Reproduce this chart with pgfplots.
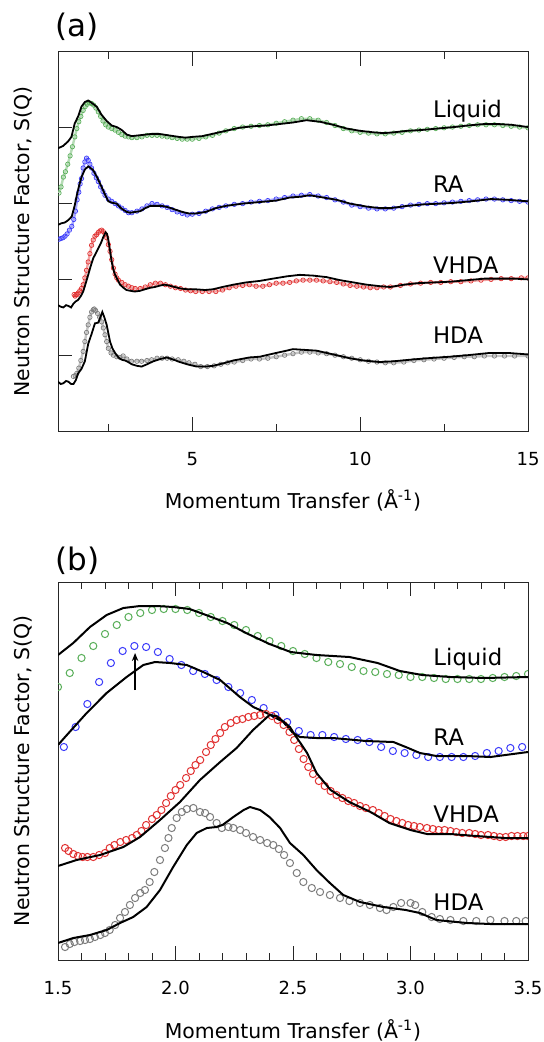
\documentclass[border=0pt]{standalone}
\usepackage{fontspec}
\setmainfont{DejaVu Sans}
\usepackage{pgfplots}
\usepackage{pgfplotstable}
\pgfplotsset{compat=1.18}
\usetikzlibrary{arrows.meta}

\definecolor{cgreen}{RGB}{90,175,90}
\definecolor{cblue}{RGB}{60,60,250}
\definecolor{cred}{RGB}{225,50,50}
\definecolor{cgrey}{RGB}{125,125,125}

% ---------- panel (a): whole Q range, curves offset by 1 ----------
\pgfplotstableread{
q s
1.00 3.73
1.15 3.76
1.30 3.82
1.40 3.88
1.50 4.06
1.60 4.15
1.70 4.28
1.80 4.34
1.90 4.36
2.00 4.33
2.15 4.28
2.30 4.17
2.45 4.09
2.60 4.03
2.75 4.01
2.90 3.97
3.05 3.91
3.20 3.89
3.40 3.90
3.60 3.91
3.80 3.92
4.00 3.92
4.30 3.90
4.60 3.88
4.80 3.87
5.00 3.88
5.30 3.89
5.70 3.93
6.00 3.96
6.40 4.00
6.80 4.02
7.20 4.03
7.60 4.05
8.00 4.07
8.40 4.10
8.80 4.08
9.20 4.04
9.60 3.99
10.00 3.96
10.40 3.94
10.70 3.93
11.00 3.94
11.40 3.96
11.80 3.97
12.30 3.99
12.80 4.01
13.20 4.03
13.70 4.05
14.10 4.05
14.50 4.04
15.00 4.01
}\liqfitA
\pgfplotstableread{
q s
1.03 3.14
1.09 3.22
1.16 3.35
1.22 3.42
1.29 3.52
1.36 3.63
1.43 3.75
1.50 3.88
1.56 3.99
1.62 4.08
1.68 4.15
1.75 4.23
1.81 4.28
1.87 4.31
1.93 4.33
2.00 4.32
2.06 4.30
2.13 4.26
2.20 4.21
2.27 4.15
2.34 4.09
2.42 4.04
2.50 4.01
2.60 3.99
2.70 3.97
2.80 3.94
2.90 3.91
3.00 3.89
3.10 3.88
3.20 3.87
3.35 3.87
3.50 3.88
3.65 3.90
3.80 3.90
3.95 3.90
4.10 3.89
4.25 3.88
4.40 3.87
4.55 3.86
4.70 3.85
4.85 3.85
5.00 3.85
5.20 3.86
5.40 3.88
5.60 3.90
5.80 3.93
6.00 3.96
6.25 3.99
6.50 4.01
6.75 4.02
7.00 4.03
7.25 4.04
7.50 4.06
7.75 4.08
8.00 4.10
8.25 4.12
8.50 4.12
8.75 4.10
9.00 4.07
9.25 4.03
9.50 3.99
9.75 3.96
10.00 3.94
10.25 3.93
10.50 3.92
10.75 3.92
11.00 3.93
11.25 3.94
11.50 3.96
11.75 3.97
12.00 3.98
12.25 3.99
12.50 4.00
12.75 4.01
13.00 4.02
13.25 4.03
13.50 4.04
13.75 4.04
14.00 4.04
14.25 4.03
14.50 4.02
14.75 4.01
15.00 4.00
}\liqexpA
\pgfplotstableread{
q s
1.00 2.72
1.10 2.74
1.20 2.75
1.30 2.78
1.41 2.83
1.50 2.98
1.56 3.11
1.63 3.24
1.70 3.35
1.80 3.45
1.90 3.49
2.00 3.46
2.05 3.44
2.15 3.36
2.30 3.22
2.40 3.12
2.50 3.03
2.62 3.01
2.75 3.00
2.85 2.95
2.94 2.92
3.05 2.89
3.15 2.88
3.30 2.89
3.45 2.90
3.60 2.94
3.75 2.97
3.90 2.97
4.10 2.97
4.30 2.95
4.50 2.92
4.70 2.89
4.90 2.87
5.10 2.87
5.40 2.89
5.70 2.94
6.00 2.97
6.50 3.00
7.00 3.02
7.50 3.04
7.90 3.08
8.20 3.09
8.50 3.11
8.90 3.08
9.30 3.05
9.70 3.00
10.20 2.96
10.60 2.94
10.90 2.94
11.40 2.97
11.90 2.99
12.40 3.00
12.80 3.01
13.30 3.03
13.90 3.06
14.40 3.05
15.00 3.03
}\rafitA
\pgfplotstableread{
q s
1.03 2.53
1.09 2.54
1.15 2.55
1.21 2.57
1.27 2.60
1.34 2.65
1.41 2.70
1.47 2.79
1.52 2.90
1.57 3.05
1.62 3.15
1.66 3.26
1.70 3.33
1.75 3.47
1.80 3.55
1.85 3.60
1.90 3.57
1.95 3.52
2.00 3.47
2.07 3.40
2.14 3.34
2.20 3.29
2.27 3.22
2.34 3.16
2.40 3.11
2.50 3.06
2.60 3.03
2.70 3.00
2.80 2.97
2.90 2.94
3.00 2.91
3.10 2.88
3.20 2.88
3.35 2.90
3.50 2.93
3.65 2.97
3.80 3.00
3.95 2.99
4.10 2.97
4.25 2.95
4.40 2.92
4.55 2.89
4.70 2.87
4.85 2.85
5.00 2.86
5.20 2.87
5.40 2.90
5.60 2.93
5.80 2.95
6.00 2.97
6.25 2.99
6.50 3.00
6.75 3.02
7.00 3.03
7.25 3.04
7.50 3.06
7.75 3.08
8.00 3.10
8.25 3.11
8.50 3.12
8.75 3.10
9.00 3.08
9.25 3.05
9.50 3.02
9.75 2.98
10.00 2.96
10.25 2.94
10.50 2.93
10.75 2.93
11.00 2.94
11.25 2.96
11.50 2.98
11.75 2.99
12.00 3.00
12.25 3.00
12.50 3.01
12.75 3.02
13.00 3.03
13.25 3.04
13.50 3.05
13.75 3.06
14.00 3.06
14.25 3.05
14.50 3.04
14.75 3.03
15.00 3.02
}\raexpA
\pgfplotstableread{
q s
1.00 1.66
1.08 1.64
1.16 1.63
1.24 1.66
1.31 1.65
1.39 1.63
1.46 1.68
1.53 1.71
1.60 1.73
1.68 1.78
1.75 1.84
1.82 1.94
1.90 2.06
1.97 2.17
2.05 2.28
2.12 2.34
2.20 2.41
2.28 2.48
2.35 2.56
2.42 2.62
2.46 2.60
2.50 2.52
2.55 2.38
2.60 2.23
2.65 2.13
2.70 2.06
2.78 1.99
2.85 1.93
2.95 1.89
3.04 1.86
3.15 1.85
3.29 1.84
3.45 1.85
3.59 1.87
3.75 1.89
3.89 1.90
4.05 1.92
4.18 1.93
4.30 1.92
4.48 1.90
4.65 1.88
4.85 1.87
5.08 1.87
5.38 1.86
5.62 1.87
5.90 1.90
6.22 1.93
6.60 1.96
7.01 1.98
7.40 2.01
7.81 2.04
8.20 2.06
8.60 2.05
9.00 2.03
9.40 1.99
9.80 1.96
10.20 1.93
10.60 1.91
10.90 1.90
11.30 1.93
11.70 1.95
12.20 1.96
12.70 1.97
13.20 1.99
13.70 2.01
14.20 2.01
14.60 2.01
15.00 2.00
}\vhdafitA
\pgfplotstableread{
q s
1.48 1.80
1.51 1.78
1.54 1.80
1.57 1.80
1.60 1.82
1.65 1.85
1.70 1.88
1.75 1.93
1.80 2.02
1.85 2.12
1.90 2.23
1.95 2.34
2.00 2.45
2.05 2.52
2.10 2.57
2.15 2.59
2.20 2.62
2.25 2.64
2.30 2.65
2.35 2.63
2.40 2.60
2.45 2.55
2.50 2.46
2.55 2.37
2.60 2.26
2.65 2.15
2.70 2.07
2.75 2.02
2.80 1.99
2.90 1.96
3.00 1.93
3.10 1.91
3.20 1.89
3.30 1.88
3.45 1.88
3.60 1.90
3.75 1.93
3.90 1.95
4.05 1.95
4.20 1.93
4.35 1.91
4.50 1.89
4.65 1.88
4.80 1.86
4.95 1.85
5.10 1.84
5.30 1.84
5.50 1.84
5.70 1.84
5.90 1.86
6.10 1.89
6.30 1.91
6.50 1.92
6.70 1.93
6.90 1.91
7.10 1.91
7.30 1.93
7.50 1.95
7.70 1.95
7.90 1.96
8.10 1.98
8.30 1.99
8.50 1.99
8.70 1.99
8.90 1.98
9.10 1.97
9.30 1.96
9.50 1.94
9.70 1.92
9.90 1.91
10.10 1.90
10.30 1.89
10.50 1.89
10.70 1.90
10.90 1.90
11.20 1.92
11.50 1.94
11.80 1.95
12.10 1.96
12.40 1.96
12.70 1.97
13.00 1.97
13.30 1.98
13.60 1.99
13.90 2.00
14.20 2.01
14.50 2.01
14.80 2.02
15.00 2.02
}\vhdaexpA
\pgfplotstableread{
q s
1.00 0.65
1.08 0.62
1.16 0.63
1.24 0.66
1.31 0.65
1.39 0.62
1.46 0.62
1.53 0.67
1.60 0.76
1.70 0.82
1.80 0.92
1.90 1.15
2.00 1.28
2.10 1.42
2.20 1.43
2.26 1.50
2.32 1.57
2.38 1.50
2.45 1.40
2.55 1.18
2.62 1.09
2.70 1.03
2.80 0.97
2.90 0.94
3.00 0.93
3.09 0.91
3.20 0.88
3.35 0.86
3.49 0.85
3.65 0.88
3.84 0.92
4.05 0.95
4.24 0.97
4.45 0.94
4.63 0.91
4.85 0.88
5.13 0.85
5.40 0.85
5.62 0.86
5.90 0.89
6.22 0.93
6.70 0.97
7.01 0.98
7.40 1.02
7.81 1.06
8.00 1.08
8.35 1.07
8.70 1.06
9.20 1.01
9.69 0.96
10.10 0.93
10.58 0.91
11.00 0.92
11.48 0.94
12.00 0.96
12.67 0.98
13.20 1.00
13.86 1.03
14.40 1.03
15.00 1.01
}\hdafitA
\pgfplotstableread{
q s
1.46 0.72
1.51 0.73
1.56 0.76
1.62 0.83
1.68 0.93
1.75 1.05
1.80 1.18
1.85 1.30
1.90 1.40
1.95 1.50
2.00 1.57
2.05 1.60
2.08 1.61
2.12 1.59
2.18 1.55
2.24 1.50
2.30 1.44
2.35 1.36
2.40 1.27
2.45 1.18
2.50 1.09
2.58 1.03
2.65 1.00
2.75 0.98
2.85 0.97
2.94 0.99
3.05 0.95
3.19 0.92
3.35 0.92
3.49 0.92
3.65 0.93
3.79 0.94
3.95 0.96
4.10 0.96
4.25 0.96
4.40 0.95
4.58 0.94
4.75 0.92
4.90 0.90
5.08 0.88
5.25 0.85
5.45 0.85
5.65 0.86
5.85 0.88
6.05 0.90
6.25 0.91
6.50 0.93
6.75 0.95
7.00 0.95
7.25 0.96
7.50 0.98
7.75 1.00
8.00 1.02
8.25 1.04
8.50 1.04
8.75 1.03
9.00 1.02
9.25 1.00
9.50 0.98
9.75 0.96
10.00 0.94
10.25 0.92
10.50 0.91
10.75 0.90
11.00 0.90
11.30 0.91
11.60 0.93
11.90 0.94
12.20 0.95
12.50 0.96
12.80 0.97
13.10 0.98
13.40 0.98
13.70 0.99
14.00 0.99
14.30 0.99
14.60 0.99
15.00 0.99
}\hdaexpA

% ---------- panel (b): first peak region ----------
\pgfplotstableread{
q s
1.500 3.05
1.565 3.17
1.636 3.33
1.707 3.45
1.778 3.52
1.849 3.54
1.920 3.54
1.990 3.53
2.060 3.51
2.130 3.45
2.220 3.37
2.300 3.27
2.400 3.16
2.490 3.08
2.600 3.05
2.740 3.03
2.860 2.97
2.955 2.89
3.050 2.85
3.170 2.83
3.310 2.82
3.500 2.83
}\liqfitB
\pgfplotstableread{
q s
1.50 2.73
1.55 2.87
1.60 3.02
1.65 3.14
1.70 3.26
1.75 3.35
1.80 3.43
1.85 3.47
1.90 3.50
1.95 3.51
2.00 3.51
2.05 3.50
2.10 3.47
2.15 3.43
2.20 3.39
2.25 3.35
2.30 3.30
2.35 3.24
2.40 3.19
2.45 3.14
2.50 3.09
2.55 3.06
2.60 3.02
2.65 2.98
2.70 2.96
2.75 2.93
2.80 2.89
2.85 2.88
2.90 2.86
2.95 2.85
3.00 2.83
3.05 2.83
3.10 2.82
3.15 2.81
3.20 2.81
3.25 2.81
3.30 2.81
3.35 2.82
3.40 2.83
3.45 2.84
3.50 2.86
}\liqexpB
\pgfplotstableread{
q s
1.500 2.15
1.530 2.23
1.622 2.47
1.707 2.67
1.792 2.83
1.863 2.95
1.913 2.98
1.977 2.97
2.048 2.95
2.118 2.88
2.190 2.80
2.274 2.63
2.331 2.53
2.388 2.47
2.459 2.38
2.500 2.27
2.530 2.23
2.600 2.22
2.670 2.22
2.810 2.19
2.927 2.18
2.980 2.13
3.040 2.07
3.110 2.04
3.240 2.04
3.340 2.03
3.500 2.08
}\rafitB
\pgfplotstableread{
q s
1.525 2.13
1.575 2.33
1.625 2.56
1.675 2.78
1.725 2.97
1.775 3.09
1.825 3.14
1.875 3.13
1.925 3.08
1.975 3.01
2.025 2.95
2.075 2.89
2.125 2.86
2.175 2.80
2.225 2.73
2.275 2.67
2.325 2.60
2.375 2.52
2.425 2.45
2.475 2.38
2.525 2.29
2.575 2.25
2.625 2.25
2.675 2.23
2.725 2.21
2.775 2.20
2.825 2.18
2.875 2.13
2.925 2.09
2.975 2.07
3.025 2.05
3.075 2.03
3.125 2.03
3.175 2.03
3.225 2.03
3.275 2.04
3.325 2.07
3.375 2.09
3.425 2.12
3.475 2.13
}\raexpB
\pgfplotstableread{
q s
1.500 0.94
1.579 1.00
1.679 1.05
1.778 1.13
1.849 1.23
1.934 1.40
2.019 1.58
2.104 1.80
2.190 1.98
2.260 2.12
2.330 2.30
2.400 2.45
2.430 2.44
2.487 2.33
2.500 2.28
2.560 2.07
2.600 1.87
2.660 1.70
2.740 1.58
2.830 1.48
2.910 1.37
3.000 1.30
3.070 1.26
3.170 1.26
3.280 1.24
3.400 1.22
3.500 1.22
}\vhdafitB
\pgfplotstableread{
q s
1.530 1.12
1.545 1.09
1.565 1.06
1.585 1.04
1.605 1.03
1.625 1.03
1.650 1.03
1.675 1.05
1.700 1.07
1.720 1.12
1.740 1.15
1.765 1.18
1.790 1.20
1.815 1.22
1.835 1.25
1.855 1.29
1.875 1.35
1.900 1.41
1.920 1.45
1.940 1.50
1.960 1.57
1.980 1.64
2.000 1.70
2.020 1.75
2.045 1.82
2.065 1.89
2.085 1.95
2.105 2.00
2.130 2.08
2.150 2.15
2.170 2.21
2.190 2.27
2.210 2.33
2.235 2.37
2.260 2.40
2.285 2.41
2.310 2.43
2.335 2.44
2.360 2.45
2.385 2.46
2.410 2.44
2.435 2.40
2.460 2.35
2.485 2.28
2.505 2.20
2.525 2.11
2.545 2.01
2.565 1.93
2.585 1.86
2.610 1.79
2.635 1.74
2.660 1.69
2.685 1.65
2.710 1.62
2.735 1.59
2.760 1.57
2.785 1.54
2.810 1.52
2.840 1.50
2.865 1.47
2.890 1.44
2.915 1.41
2.940 1.39
2.965 1.37
2.990 1.35
3.015 1.34
3.040 1.33
3.070 1.32
3.095 1.31
3.120 1.30
3.145 1.30
3.170 1.29
3.195 1.28
3.220 1.27
3.250 1.27
3.275 1.26
3.300 1.25
3.330 1.25
3.355 1.24
3.380 1.23
3.405 1.23
3.430 1.24
3.455 1.24
3.480 1.24
3.500 1.24
}\vhdaexpB
\pgfplotstableread{
q s
1.500 0.17
1.565 0.22
1.636 0.25
1.707 0.30
1.764 0.37
1.820 0.43
1.877 0.53
1.934 0.70
1.990 0.93
2.048 1.15
2.090 1.27
2.133 1.32
2.175 1.33
2.200 1.35
2.246 1.43
2.290 1.50
2.317 1.53
2.360 1.50
2.400 1.43
2.445 1.32
2.487 1.17
2.544 1.05
2.600 0.90
2.657 0.77
2.714 0.65
2.785 0.58
2.884 0.53
2.980 0.50
3.040 0.47
3.110 0.40
3.240 0.37
3.340 0.36
3.500 0.36
}\hdafitB
\pgfplotstableread{
q s
1.530 0.13
1.550 0.16
1.570 0.18
1.594 0.19
1.615 0.20
1.636 0.21
1.657 0.23
1.680 0.25
1.700 0.27
1.720 0.30
1.743 0.35
1.764 0.42
1.785 0.48
1.806 0.55
1.828 0.62
1.850 0.67
1.870 0.70
1.890 0.78
1.910 0.88
1.934 1.00
1.955 1.12
1.970 1.22
1.984 1.32
2.005 1.42
2.027 1.48
2.048 1.51
2.076 1.52
2.104 1.48
2.126 1.47
2.147 1.43
2.175 1.37
2.197 1.32
2.225 1.33
2.246 1.32
2.275 1.30
2.300 1.27
2.330 1.23
2.360 1.20
2.390 1.17
2.416 1.15
2.440 1.11
2.462 1.05
2.487 0.97
2.516 0.87
2.544 0.78
2.580 0.72
2.615 0.68
2.657 0.65
2.700 0.62
2.740 0.59
2.785 0.57
2.827 0.55
2.870 0.52
2.898 0.50
2.927 0.53
2.960 0.57
3.000 0.57
3.020 0.55
3.050 0.48
3.090 0.43
3.125 0.41
3.170 0.40
3.225 0.39
3.280 0.39
3.340 0.40
3.400 0.39
3.450 0.39
3.490 0.39
}\hdaexpB

\pgfplotsset{
  panel/.style={
    width=235pt, scale only axis,
    axis line style={line width=0.5pt, black!85},
    tick style={line width=0.5pt, black!85},
    major tick length=7.2pt, minor tick length=3.5pt,
    tick align=inside,
    xtick pos=both, xticklabel pos=lower,
    tick label style={font=\fontsize{9}{10}\selectfont},
    /pgf/number format/assume math mode=true,
    xticklabel style={anchor=base, yshift=-17pt},
    label style={font=\fontsize{10.2}{12}\selectfont},
    xlabel={Momentum Transfer (Å\textsuperscript{-1})},
    ylabel={Neutron Structure Factor, S(Q)},
    ylabel style={at={(axis description cs:-0.0596,0.5)}, anchor=base},
    clip marker paths=true,
  },
  fitA/.style={black, line width=0.9pt},
  expA/.style={#1!45, line width=1.2pt, mark=o, mark size=1.1pt,
    mark options={draw=#1, line width=0.35pt}},
  fitB/.style={black, line width=1pt},
  expB/.style={only marks, mark=o, mark size=1.8pt, mark options={line width=0.5pt}},
}
\tikzset{
  lbl/.style={anchor=base west, inner sep=0pt, font=\fontsize{11.4}{13}\selectfont},
}

\begin{document}
\begin{tikzpicture}
\path[use as bounding box] (0,0) rectangle (272pt,-521pt);

\begin{axis}[panel,
  at={(29pt,-215.5pt)}, anchor=south west, height=189.5pt,
  xmin=1, xmax=15, ymin=0, ymax=5,
  xtick={5,10,15}, minor xtick={2.5,7.5,12.5},
  ytick={1,2,3,4}, yticklabels={}, ytick pos=left,
  xlabel style={at={(axis description cs:0.5,0)}, anchor=base, yshift=-38.5pt},
]
  \addplot[expA=cgreen] table {\liqexpA};
  \addplot[fitA] table {\liqfitA};
  \addplot[expA=cblue] table {\raexpA};
  \addplot[fitA] table {\rafitA};
  \addplot[expA=cred] table {\vhdaexpA};
  \addplot[fitA] table {\vhdafitA};
  \addplot[expA=cgrey] table {\hdaexpA};
  \addplot[fitA] table {\hdafitA};

  \node[lbl] at (axis cs:12.16,4.13) {Liquid};
  \node[lbl] at (axis cs:12.16,3.14) {RA};
  \node[lbl] at (axis cs:12.16,2.08) {VHDA};
  \node[lbl] at (axis cs:12.16,1.16) {HDA};
\end{axis}

\begin{axis}[panel,
  at={(29pt,-480pt)}, anchor=south west, height=189pt,
  xmin=1.5, xmax=3.5, ymin=0, ymax=3.78,
  xtick={1.5,2.0,2.5,3.0,3.5}, minor x tick num=4,
  ytick=\empty,
  xticklabel style={/pgf/number format/.cd, fixed, fixed zerofill, precision=1},
  xlabel style={at={(axis description cs:0.5,0)}, anchor=base, yshift=-39pt},
]
  \addplot[expB, cgreen] table {\liqexpB};
  \addplot[fitB] table {\liqfitB};
  \addplot[expB, cblue] table {\raexpB};
  \addplot[fitB] table {\rafitB};
  \addplot[expB, cred] table {\vhdaexpB};
  \addplot[fitB] table {\vhdafitB};
  \addplot[expB, cgrey] table {\hdaexpB};
  \addplot[fitB] table {\hdafitB};

  \draw[-{Stealth[length=4pt,width=3.2pt]}, line width=0.8pt]
    (axis cs:1.828,2.70) -- (axis cs:1.828,3.07);

  \node[lbl] at (axis cs:3.096,2.95) {Liquid};
  \node[lbl] at (axis cs:3.096,2.15) {RA};
  \node[lbl] at (axis cs:3.096,1.38) {VHDA};
  \node[lbl] at (axis cs:3.096,0.50) {HDA};
\end{axis}

\node[anchor=base west, inner sep=0pt, font=\fontsize{15.5}{18}\selectfont]
  at (27.5pt,-18.5pt) {(a)};
\node[anchor=base west, inner sep=0pt, font=\fontsize{15.5}{18}\selectfont]
  at (27.5pt,-285pt) {(b)};
\end{tikzpicture}
\end{document}
